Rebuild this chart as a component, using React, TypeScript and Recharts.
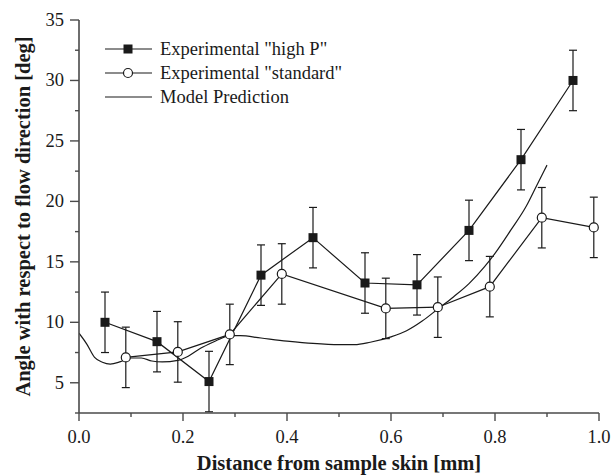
import React from "react";
import { ComposedChart, Line, XAxis, YAxis, ErrorBar } from "recharts";

const highPX = [0.05, 0.15, 0.25, 0.35, 0.45, 0.55, 0.65, 0.75, 0.85, 0.95];
const highPY = [10.0, 8.4, 5.1, 13.9, 17.0, 13.25, 13.1, 17.6, 23.45, 30.0];
const highPErr = [2.5, 2.5, 2.5, 2.5, 2.5, 2.5, 2.5, 2.5, 2.5, 2.5];

const standardX = [0.09, 0.19, 0.29, 0.39, 0.59, 0.69, 0.79, 0.89, 0.99];
const standardY = [7.1, 7.55, 9.0, 14.0, 11.15, 11.25, 12.95, 18.65, 17.85];
const standardErr = [2.5, 2.5, 2.5, 2.5, 2.5, 2.5, 2.5, 2.5, 2.5];

const modelX = [
  0, 0.015, 0.03, 0.045, 0.06, 0.08, 0.1, 0.12, 0.14, 0.16, 0.19, 0.21, 0.23,
  0.25, 0.27, 0.29, 0.31, 0.35, 0.4, 0.45, 0.5, 0.53, 0.56, 0.6, 0.63, 0.66,
  0.69, 0.72, 0.75, 0.78, 0.8, 0.83, 0.86, 0.88, 0.9,
];
const modelY = [
  9.1, 8.2, 7.1, 6.7, 6.55, 6.75, 7.05, 7.05, 6.8, 6.72, 6.85, 7.2, 7.75, 8.2,
  8.6, 8.9, 8.9, 8.7, 8.45, 8.25, 8.15, 8.15, 8.35, 8.8, 9.3, 10.1, 11.1, 12.1,
  13.2, 14.6, 15.7, 17.6, 19.6, 21.3, 23.0,
];

const xTicks = [0, 0.1, 0.2, 0.3, 0.4, 0.5, 0.6, 0.7, 0.8, 0.9, 1.0];
const yTicks = [2.5, 5, 7.5, 10, 12.5, 15, 17.5, 20, 22.5, 25, 27.5, 30, 32.5, 35];

const highP = highPX.map((x, i) => ({ x, y: highPY[i], err: highPErr[i] }));
const standard = standardX.map((x, i) => ({ x, y: standardY[i], err: standardErr[i] }));
const model = modelX.map((x, i) => ({ x, y: modelY[i] }));

const FONT = "'Liberation Serif', 'Times New Roman', Times, serif";
const INK = "#1a1a1a";
const AXIS = "#4a4a4a";

const XTick = (props: any) => {
  const { x, y, payload } = props;
  const major = Math.round(payload.value * 10) % 2 === 0;
  return (
    <g>
      <line x1={x} y1={y} x2={x} y2={y + (major ? 8 : 4)} stroke={AXIS} strokeWidth={1.4} />
      {major && (
        <text
          x={x}
          y={y + 30}
          textAnchor="middle"
          style={{ fontFamily: FONT, fontSize: 18.5 }}
          fill={INK}
        >
          {payload.value.toFixed(1)}
        </text>
      )}
    </g>
  );
};

const YTick = (props: any) => {
  const { x, y, payload } = props;
  const major = payload.value % 5 === 0;
  return (
    <g>
      <line x1={x} y1={y} x2={x - (major ? 9 : 4)} y2={y} stroke={AXIS} strokeWidth={1.4} />
      {major && (
        <text
          x={x - 15}
          y={y + 6}
          textAnchor="end"
          style={{ fontFamily: FONT, fontSize: 18.5 }}
          fill={INK}
        >
          {payload.value}
        </text>
      )}
    </g>
  );
};

const SquareDot = (p: any) => (
  <rect key={`sq-${p.index}`} x={p.cx - 4.5} y={p.cy - 4.5} width={9} height={9} fill={INK} />
);

const legendRows = [
  { label: 'Experimental "high P"', marker: "square", top: 49 },
  { label: 'Experimental "standard"', marker: "circle", top: 73 },
  { label: "Model Prediction", marker: "none", top: 97 },
];

const ChartLegend = () => (
  <>
    {legendRows.map((r) => (
      <div
        key={r.label}
        style={{
          position: "absolute",
          left: 105,
          top: r.top - 11,
          height: 22,
          display: "flex",
          alignItems: "center",
          fontFamily: FONT,
          fontSize: 18.5,
          color: INK,
          whiteSpace: "nowrap",
        }}
      >
        <svg width={48} height={14} style={{ display: "block" }}>
          <line x1={0} y1={7} x2={47} y2={7} stroke={INK} strokeWidth={1.2} />
          {r.marker === "square" && <rect x={18.5} y={2.5} width={9} height={9} fill={INK} />}
          {r.marker === "circle" && (
            <circle cx={23} cy={7} r={4.5} fill="#fff" stroke={INK} strokeWidth={1.2} />
          )}
        </svg>
        <span style={{ marginLeft: 7 }}>{r.label}</span>
      </div>
    ))}
  </>
);

export default function App() {
  return (
    <div style={{ position: "absolute", left: 0, top: 0, width: 611, height: 475, background: "#fff" }}>
      <ComposedChart width={611} height={475} margin={{ top: 20, right: 12, bottom: 0, left: 0 }}>
        <XAxis
          dataKey="x"
          type="number"
          domain={[0, 1]}
          ticks={xTicks}
          interval={0}
          height={62}
          tickSize={0}
          tickMargin={0}
          tickLine={false}
          axisLine={{ stroke: AXIS, strokeWidth: 1.6 }}
          tick={<XTick />}
          allowDataOverflow
          label={{
            content: (p: any) => {
              const vb = p.viewBox;
              return (
                <text
                  x={vb.x + vb.width / 2}
                  y={vb.y + 57}
                  textAnchor="middle"
                  style={{ fontFamily: FONT, fontWeight: "bold", fontSize: 20.5 }}
                  fill={INK}
                >
                  Distance from sample skin [mm]
                </text>
              );
            },
          }}
        />
        <YAxis
          type="number"
          domain={[2.5, 35]}
          ticks={yTicks}
          interval={0}
          width={79}
          tickSize={0}
          tickMargin={0}
          tickLine={false}
          axisLine={{ stroke: AXIS, strokeWidth: 1.6 }}
          tick={<YTick />}
          allowDataOverflow
          label={{
            content: (p: any) => {
              const vb = p.viewBox;
              const cx = 23;
              const cy = vb.y + vb.height / 2;
              return (
                <text
                  x={cx}
                  y={cy}
                  transform={`rotate(-90 ${cx} ${cy})`}
                  textAnchor="middle"
                  dominantBaseline="central"
                  style={{ fontFamily: FONT, fontWeight: "bold", fontSize: 20.5 }}
                  fill={INK}
                >
                  Angle with respect to flow direction [deg]
                </text>
              );
            },
          }}
        />
        <Line
          data={model}
          dataKey="y"
          type="monotone"
          stroke={INK}
          strokeWidth={1.2}
          dot={false}
          activeDot={false}
          isAnimationActive={false}
        />
        <Line
          data={standard}
          dataKey="y"
          type="linear"
          stroke={INK}
          strokeWidth={1.2}
          dot={{ r: 4.5, fill: "#fff", stroke: INK, strokeWidth: 1.2 }}
          activeDot={false}
          isAnimationActive={false}
        >
          <ErrorBar dataKey="err" direction="y" width={4} stroke={INK} strokeWidth={1.2} />
        </Line>
        <Line
          data={highP}
          dataKey="y"
          type="linear"
          stroke={INK}
          strokeWidth={1.2}
          dot={SquareDot}
          activeDot={false}
          isAnimationActive={false}
        >
          <ErrorBar dataKey="err" direction="y" width={4} stroke={INK} strokeWidth={1.2} />
        </Line>
      </ComposedChart>
      <ChartLegend />
    </div>
  );
}
